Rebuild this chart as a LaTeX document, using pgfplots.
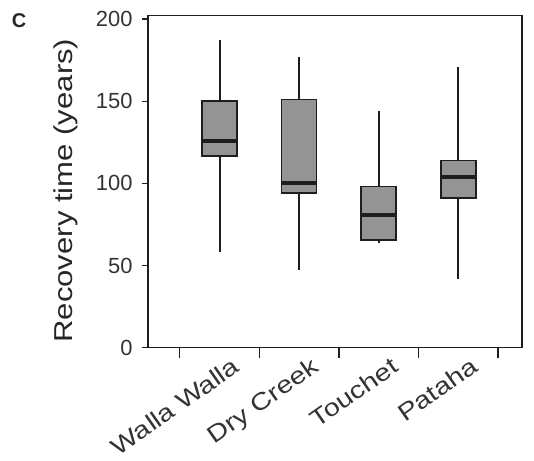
\documentclass[border=0pt]{standalone}
\usepackage{fontspec}
\setmainfont{Liberation Sans}
\newfontfamily\widefont[FakeStretch=1.2]{Liberation Sans}
\usepackage{pgfplots}
\pgfplotsset{compat=1.18}

\definecolor{boxgray}{RGB}{148,148,148}
\definecolor{linedark}{RGB}{30,30,30}

% whisker: full range line; box: quartiles; median: thick line
\pgfplotsset{
  whisk/.style={linedark, line width=1.8pt, mark=none},
  boxq/.style={draw=linedark, fill=boxgray, line width=1.6pt, mark=none},
  med/.style={linedark, line width=4pt, mark=none},
}

\begin{document}
\begin{tikzpicture}
\begin{axis}[
  scale only axis,
  width=374bp, height=332bp,
  xmin=0.1, xmax=4.8,
  ymin=0, ymax=202,
  axis line style={line width=1.3pt, linedark},
  tick style={line width=1.3pt, linedark},
  tick align=outside,
  tick pos=left,
  major tick length=10bp,
  xtick={0.5,1.5,2.5,3.5,4.5},
  xticklabels={},
  extra x ticks={1,2,3,4},
  extra x tick labels={Walla Walla, Dry Creek, Touchet, Pataha},
  extra x tick style={
    major tick length=0pt,
    tick label style={rotate=35, anchor=north east, font=\widefont\fontsize{24}{24}\selectfont, text=black!80, yshift=-10bp, xshift=8bp},
  },
  ytick=\empty,
  extra y ticks={0,50,100,150,200},
  extra y tick style={major tick length=6bp},
  /pgf/number format/assume math mode=true,
  y tick label style={font=\fontsize{22}{22}\selectfont, text=black!80, xshift=-6bp},
  ylabel={Recovery time (years)},
  ylabel style={font=\widefont\fontsize{26}{26}\selectfont, text=black!85,
    at={(ticklabel cs:0.473,1bp)}},
]
\coordinate (sw) at (rel axis cs:0,0);
\coordinate (ne) at (rel axis cs:1,1);

% Walla Walla
\addplot[whisk] coordinates {(1,58) (1,187)};
\addplot[boxq] coordinates {(0.78,116.5) (1.22,116.5) (1.22,150) (0.78,150)} -- cycle;
\addplot[med] coordinates {(0.78,126) (1.22,126)};
% Dry Creek
\addplot[whisk] coordinates {(2,47) (2,177)};
\addplot[boxq] coordinates {(1.78,94) (2.22,94) (2.22,151) (1.78,151)} -- cycle;
\addplot[med] coordinates {(1.78,100) (2.22,100)};
% Touchet
\addplot[whisk] coordinates {(3,64) (3,144)};
\addplot[boxq] coordinates {(2.78,65.5) (3.22,65.5) (3.22,98) (2.78,98)} -- cycle;
\addplot[med] coordinates {(2.78,81) (3.22,81)};
% Pataha
\addplot[whisk] coordinates {(4,42) (4,171)};
\addplot[boxq] coordinates {(3.78,91) (4.22,91) (4.22,114) (3.78,114)} -- cycle;
\addplot[med] coordinates {(3.78,104) (4.22,104)};
\end{axis}
\node[font=\bfseries\fontsize{20}{20}\selectfont, text=black!85] at ([shift={(-129bp,327bp)}]sw) {C};
\pgfresetboundingbox
\path ([shift={(-148bp,-113bp)}]sw) rectangle ([shift={(12bp,15.7bp)}]ne);
\end{tikzpicture}
\end{document}
